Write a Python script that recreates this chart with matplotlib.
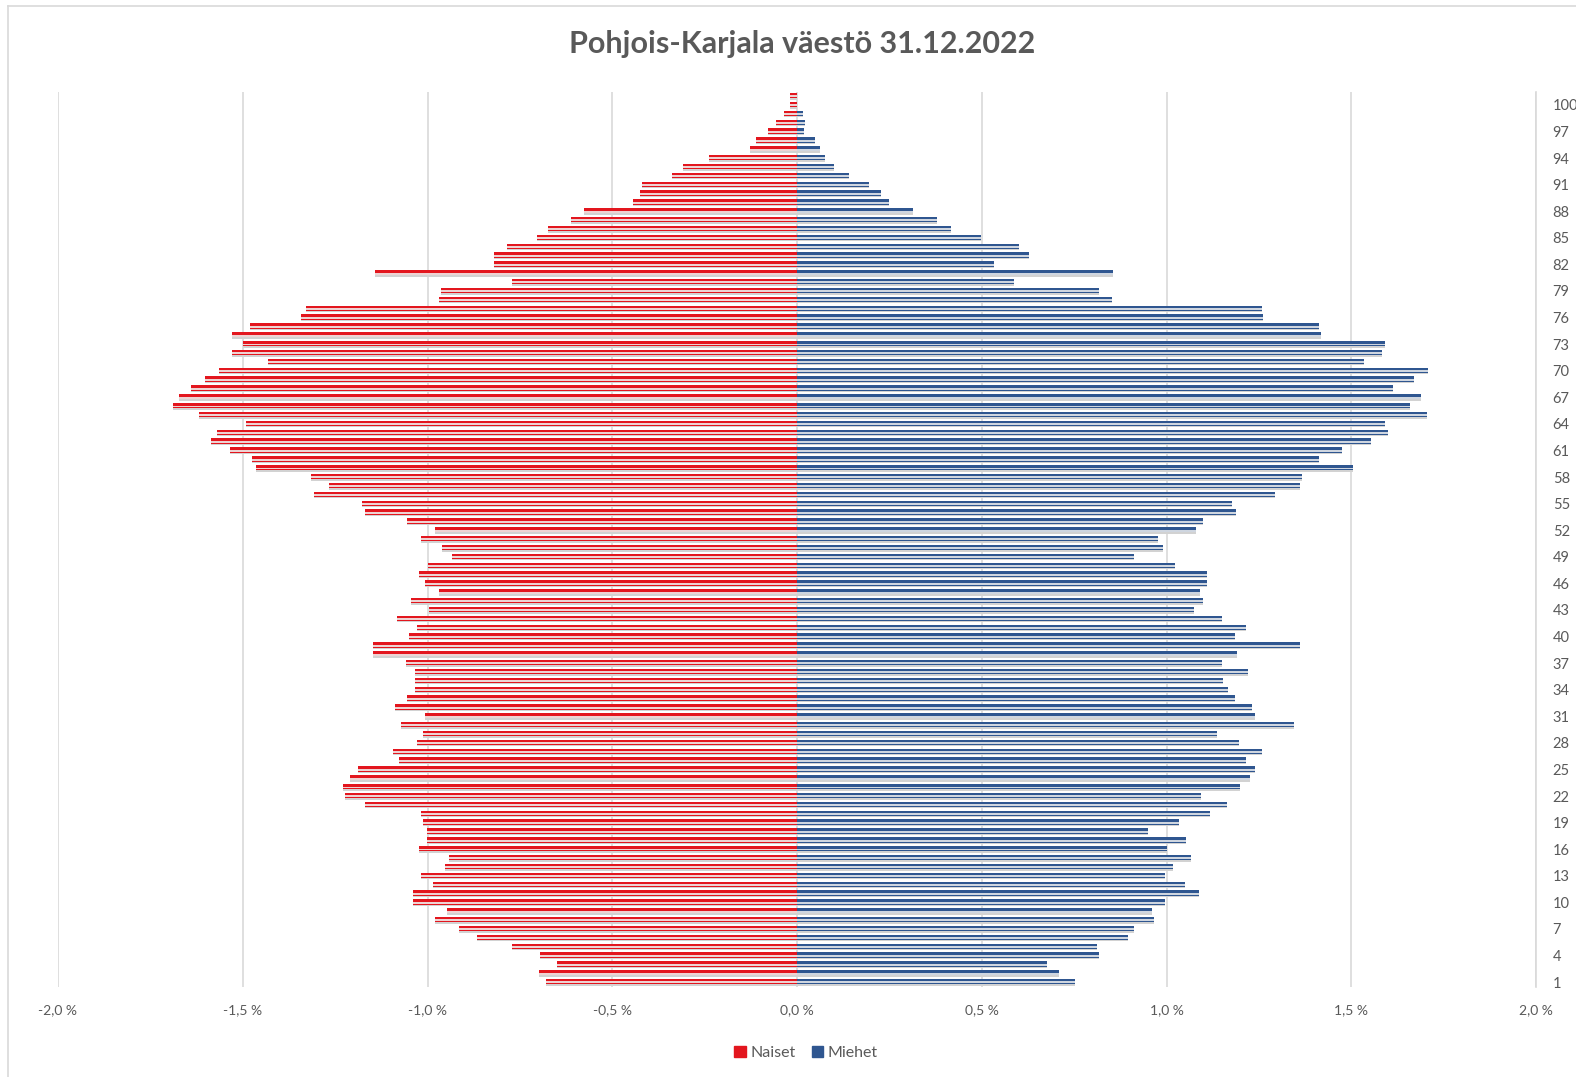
import matplotlib
matplotlib.use("Agg")
import matplotlib.pyplot as plt
from matplotlib.lines import Line2D
import numpy as np

# Data: share of total population (%) by age, Pohjois-Karjala 31.12.2022
ages = list(range(1, 102))
naiset = [0.68, 0.699, 0.65, 0.696, 0.772, 0.866, 0.916, 0.979, 0.946, 1.04,
          1.04, 0.984, 1.018, 0.953, 0.941, 1.023, 1.001, 1.001, 1.011, 1.017,
          1.168, 1.223, 1.228, 1.211, 1.189, 1.076, 1.093, 1.029, 1.013, 1.072,
          1.008, 1.087, 1.055, 1.035, 1.035, 1.035, 1.059, 1.147, 1.147, 1.05,
          1.029, 1.082, 0.997, 1.044, 0.969, 1.008, 1.023, 1.0, 0.935, 0.96,
          1.018, 0.979, 1.055, 1.168, 1.177, 1.308, 1.266, 1.314, 1.463, 1.474,
          1.535, 1.587, 1.57, 1.491, 1.619, 1.689, 1.672, 1.639, 1.603, 1.563,
          1.431, 1.529, 1.5, 1.529, 1.48, 1.343, 1.33, 0.969, 0.964, 0.772,
          1.143, 0.82, 0.82, 0.784, 0.704, 0.674, 0.612, 0.577, 0.443, 0.426,
          0.42, 0.337, 0.309, 0.238, 0.126, 0.11, 0.078, 0.057, 0.035, 0.02,
          0.02]
miehet = [0.753, 0.708, 0.677, 0.817, 0.811, 0.895, 0.912, 0.966, 0.962, 0.996,
          1.088, 1.05, 0.995, 1.018, 1.067, 1.0, 1.053, 0.95, 1.034, 1.118,
          1.164, 1.094, 1.2, 1.226, 1.239, 1.215, 1.258, 1.196, 1.136, 1.345,
          1.239, 1.232, 1.185, 1.166, 1.152, 1.22, 1.149, 1.19, 1.36, 1.186,
          1.215, 1.149, 1.075, 1.098, 1.092, 1.109, 1.109, 1.023, 0.912, 0.99,
          0.977, 1.08, 1.1, 1.189, 1.178, 1.293, 1.361, 1.367, 1.504, 1.412,
          1.474, 1.553, 1.6, 1.592, 1.704, 1.658, 1.688, 1.614, 1.671, 1.709,
          1.535, 1.582, 1.592, 1.417, 1.414, 1.261, 1.258, 0.853, 0.817, 0.588,
          0.855, 0.534, 0.629, 0.602, 0.499, 0.416, 0.378, 0.314, 0.249, 0.228,
          0.196, 0.14, 0.099, 0.077, 0.062, 0.05, 0.02, 0.022, 0.015, 0.0,
          0.0]
x_ticks = [-2.0, -1.5, -1.0, -0.5, 0.0, 0.5, 1.0, 1.5, 2.0]
age_labels = list(range(1, 101, 3))

RED = "#e3161e"
BLUE = "#2f5690"
TXT = "#595959"
GRID = "#d9d9d9"

plt.rcParams["font.family"] = ["Lato", "DejaVu Sans"]

fig = plt.figure(figsize=(15.76, 10.77), dpi=100)
ax = fig.add_axes([58 / 1576, 1 - 986.5 / 1077, (1536 - 58) / 1576, (986.5 - 91.6) / 1077])

y = np.array(ages)
neg = -np.array(naiset)
pos = np.array(miehet)

# soft shadow under each bar
ax.barh(y - 0.16, neg, height=0.5, color="#d2d2d2", zorder=2)
ax.barh(y - 0.16, pos, height=0.5, color="#d2d2d2", zorder=2)
# main bars
ax.barh(y + 0.05, neg, height=0.6, color=RED, zorder=3, label="Naiset")
ax.barh(y + 0.05, pos, height=0.6, color=BLUE, zorder=3, label="Miehet")
# light gradient stripe
ax.barh(y - 0.04, neg, height=0.22, color="#eed3d3", zorder=4)
ax.barh(y - 0.04, pos, height=0.22, color="#cfd6e0", zorder=4)

ax.set_xlim(-2.0, 2.0)
ax.set_ylim(0.5, 101.5)
ax.set_xticks(x_ticks)
ax.set_xticklabels([f"{v:.1f}".replace(".", ",") + " %" for v in x_ticks])
ax.set_yticks(age_labels)
ax.set_yticklabels([str(a) for a in age_labels])
ax.yaxis.tick_right()
ax.tick_params(axis="x", length=0, pad=13, labelsize=10, labelcolor=TXT)
ax.tick_params(axis="y", length=0, pad=12, labelsize=10.5, labelcolor=TXT)
ax.xaxis.grid(True, color=GRID, linewidth=1.2, zorder=0)
ax.set_axisbelow(True)
for s in ["top", "left", "bottom"]:
    ax.spines[s].set_visible(False)
ax.spines["right"].set_color(GRID)
ax.spines["right"].set_linewidth(1.2)

fig.text(802 / 1576, 1 - 44 / 1077, "Pohjois-Karjala väestö 31.12.2022",
         ha="center", va="center", fontsize=22, fontweight="bold", color=TXT)

handles = [plt.Rectangle((0, 0), 1, 1, color=RED), plt.Rectangle((0, 0), 1, 1, color=BLUE)]
fig.legend(handles, ["Naiset", "Miehet"], loc="center", bbox_to_anchor=(806 / 1576, 1 - 1053 / 1077),
           ncol=2, frameon=False, fontsize=11.5, labelcolor=TXT, handlelength=0.7, handleheight=0.7,
           handletextpad=0.3, columnspacing=1.0)

# chart area border (cut at right and bottom)
fig.add_artist(Line2D([8 / 1576, 1], [1 - 6 / 1077, 1 - 6 / 1077], color=GRID, linewidth=1.2))
fig.add_artist(Line2D([8 / 1576, 8 / 1576], [0, 1 - 6 / 1077], color=GRID, linewidth=1.2))

fig.savefig("out.png", dpi=100)
